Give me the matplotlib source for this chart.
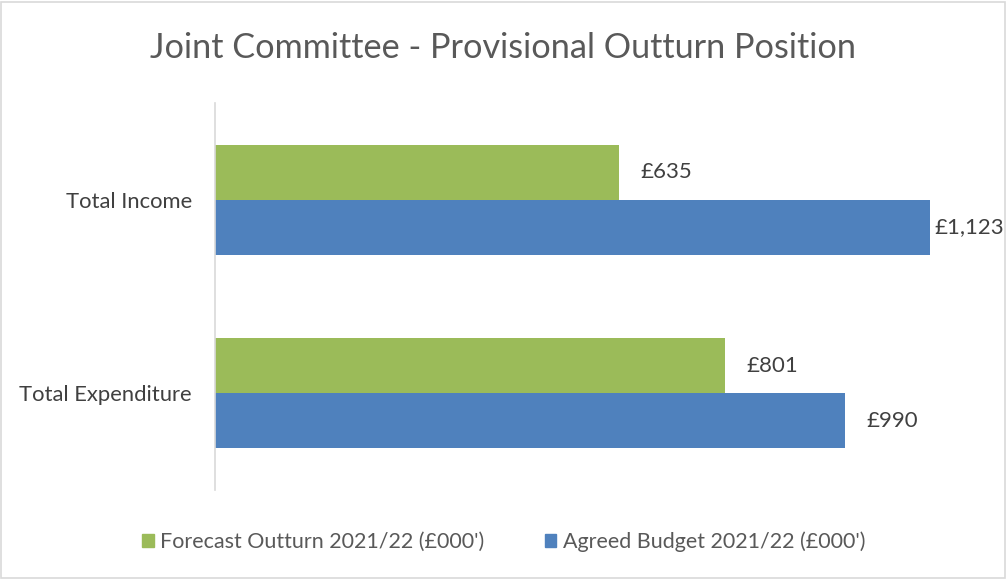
import matplotlib
matplotlib.use("Agg")
import matplotlib.pyplot as plt
from matplotlib.patches import Rectangle

plt.rcParams['font.family'] = ['Lato', 'DejaVu Sans']

categories = ["Total Expenditure", "Total Income"]
forecast = [801, 635]
budget = [990, 1123]
series_names = ["Forecast Outturn 2021/22 (£000')", "Agreed Budget 2021/22 (£000')"]
title = "Joint Committee - Provisional Outturn Position"

GREEN = "#9BBB59"
BLUE = "#4F81BD"
TXT = "#404040"

W, H = 1007, 579
fig = plt.figure(figsize=(W / 100, H / 100), dpi=100)
fig.patch.set_facecolor("white")

ax_l, ax_r, ax_t, ax_b = 215, 979, 103, 490
ax = fig.add_axes([ax_l / W, 1 - ax_b / H, (ax_r - ax_l) / W, (ax_b - ax_t) / H])
ax.set_xlim(0, 1200)
ax.set_ylim(-0.5, 1.5)

h = 0.284
ys = list(range(len(categories)))
ax.barh([y + h / 2 for y in ys], forecast, height=h, color=GREEN, label=series_names[0])
ax.barh([y - h / 2 for y in ys], budget, height=h, color=BLUE, label=series_names[1])

ax.set_yticks(ys)
ax.set_yticklabels(categories, fontsize=15.8, color=TXT)
ax.tick_params(axis='y', length=0, pad=16.5)
ax.set_xticks([])
for s in ["top", "right", "bottom"]:
    ax.spines[s].set_visible(False)
ax.spines["left"].set_color("#D9D9D9")
ax.spines["left"].set_linewidth(1.2)

fig.canvas.draw()
renderer = fig.canvas.get_renderer()
to_px = ax.transData
inv = ax.transData.inverted()
for vals, ycs in ((forecast, [y + h / 2 for y in ys]), (budget, [y - h / 2 for y in ys])):
    for v, yc in zip(vals, ycs):
        t = ax.text(0, yc, f"£{v:,}", fontsize=16, color=TXT, va='center', ha='left')
        bb = t.get_window_extent(renderer)
        end_px = to_px.transform((v, yc))[0]
        x_px = end_px + 21
        if x_px + bb.width > W - 4:
            x_px = end_px + 4
        t.set_x(inv.transform((x_px, 0))[0])

fig.text(0.5, 1 - 48 / H, title, ha='center', va='center', fontsize=24.7, color="#595959")

handles = [Rectangle((0, 0), 1, 1, color=GREEN), Rectangle((0, 0), 1, 1, color=BLUE)]
fig.legend(handles, series_names, loc='center', bbox_to_anchor=(0.5, 1 - 542 / H),
           ncol=2, frameon=False, fontsize=15.5, labelcolor="#595959",
           handlelength=0.55, handleheight=0.55, handletextpad=0.3, columnspacing=2.8)

fig.add_artist(Rectangle((1 / W, 1 / H), (W - 3) / W, (H - 3) / H, transform=fig.transFigure,
                         fill=False, edgecolor="#D9D9D9", linewidth=1.2))

fig.savefig("out.png", dpi=100)
